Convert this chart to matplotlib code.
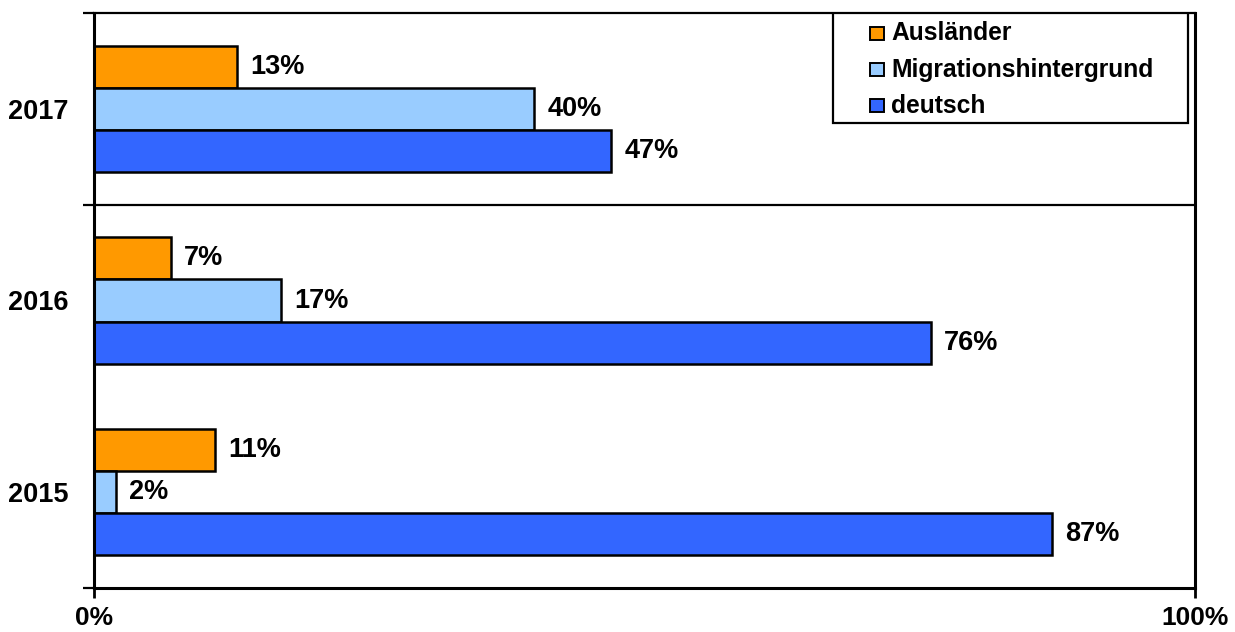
import matplotlib.pyplot as plt
from matplotlib.patches import Rectangle
import numpy as np

plt.rcParams['font.family'] = ['Liberation Sans', 'DejaVu Sans']
plt.rcParams['font.weight'] = 'bold'

#-------------Data:

years = ['2015', '2016', '2017']
series_names = ['Ausländer', 'Migrationshintergrund', 'deutsch']
auslaender = [11, 7, 13]
migration = [2, 17, 40]
deutsch = [87, 76, 47]
colors = ['#FF9900', '#99CCFF', '#3366FF']

#-------------Figure:

fig = plt.figure(figsize=(12.35, 6.32), dpi=100, facecolor='white')
ax = fig.add_axes([94/1235, 44/632, 1101/1235, 575/632])

centers = np.arange(len(years)) + 0.5
h = 0.22
offsets = [h, 0, -h]

for vals, off, col in zip([auslaender, migration, deutsch], offsets, colors):
    bars = ax.barh(centers + off, vals, height=h, color=col,
                   edgecolor='black', linewidth=1.8)
    for b, v in zip(bars, vals):
        ax.annotate(f'{v}%', (v, b.get_y() + b.get_height()/2),
                    xytext=(9.5, 0), textcoords='offset points',
                    ha='left', va='center', fontsize=19.5, fontweight='bold')

ax.set_xlim(0, 100)
ax.set_ylim(0, 3)

# separator between 2017 and 2016
ax.axhline(2, color='black', lw=1.6)

# axes frame
for side in ['left', 'bottom', 'right']:
    ax.spines[side].set_linewidth(2.2)
ax.spines['top'].set_linewidth(1.6)

ax.set_xticks([0, 100])
ax.set_xticklabels(['0%', '100%'], fontsize=19, fontweight='bold')
ax.tick_params(axis='x', length=7, width=2, pad=6)

ax.set_yticks(centers)
ax.set_yticklabels(years, fontsize=19.5, fontweight='bold')
ax.tick_params(axis='y', which='major', length=0, pad=18.5)
ax.set_yticks([0, 2, 3], minor=True)
ax.tick_params(axis='y', which='minor', length=8, width=1.6)

#-------------Legend box:

ax.add_patch(Rectangle((0.671, 0.8087), 0.3227, 0.1913, transform=ax.transAxes,
                       facecolor='white', edgecolor='black', lw=1.6, zorder=5))
rows = [0.9652, 0.9009, 0.8383]
for name, col, yy in zip(series_names, colors, rows):
    ax.add_patch(Rectangle((0.7048, yy - 0.0113), 0.0127, 0.0226,
                           transform=ax.transAxes, facecolor=col,
                           edgecolor='black', lw=1.4, zorder=6))
    ax.text(0.7239, yy, name, transform=ax.transAxes, fontsize=17.7,
            fontweight='bold', va='center', ha='left', zorder=6)

fig.savefig('out.png', dpi=100)
